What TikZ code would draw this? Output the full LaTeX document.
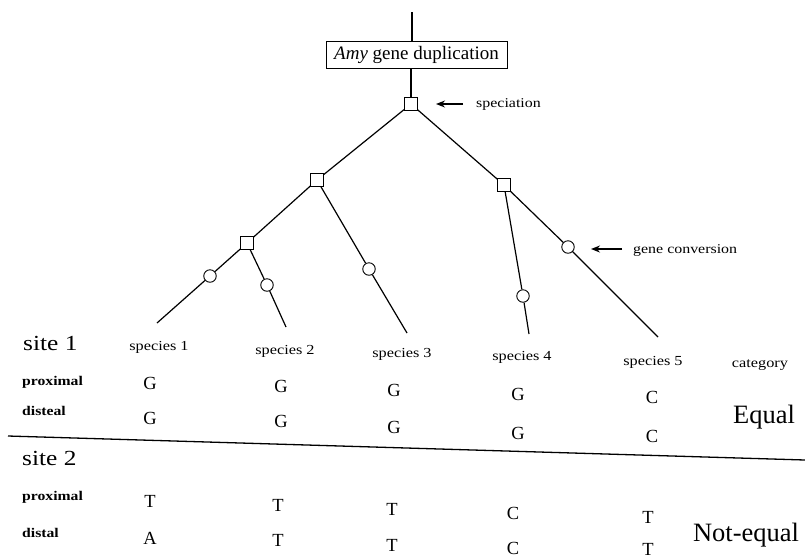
\documentclass[tikz,border=0pt]{standalone}
\usepackage{fontspec}
\setmainfont{Liberation Serif}
\newfontfamily\tf{Liberation Serif}
\newfontfamily\tfs{Liberation Serif}[FakeStretch=1.18]
\usetikzlibrary{arrows.meta}
\tikzset{
  lab/.style={inner sep=0, anchor=west, font=\tfs\bfseries\fontsize{13.3}{14}\selectfont},
  sp/.style={inner sep=0, font=\tfs\fontsize{13.8}{14}\selectfont},
  nt/.style={inner sep=0, font=\tf\fontsize{18.5}{19}\selectfont},
  site/.style={inner sep=0, anchor=west, font=\tfs\fontsize{21.5}{22}\selectfont},
  big/.style={inner sep=0, font=\tf\fontsize{26.5}{27}\selectfont},
  note/.style={inner sep=0, anchor=west, font=\tfs\fontsize{13.5}{14}\selectfont},
  sq/.style={draw, fill=white, minimum size=12.5pt, inner sep=0, line width=0.9pt},
  circ/.style={draw, fill=white, circle, minimum size=12.5pt, inner sep=0, line width=0.9pt},
  branch/.style={line width=1.2pt},
  pointer/.style={line width=1.3pt, -{Stealth[length=9pt,width=7pt]}}
}
\begin{document}
\begin{tikzpicture}[x=1pt,y=-1pt]
\useasboundingbox (0,0) rectangle (805,558);
% top
\coordinate (top) at (412,12);
\node[draw, line width=0.9pt, minimum width=181pt, minimum height=27pt, inner sep=0,
      font=\tf\fontsize{19}{19}\selectfont] (dup) at (416.5,54.5) {\textit{Amy} gene duplication};
\node[sq] (root) at (411,104) {};
\draw[branch] (top) -- (top |- dup.north);
\draw[branch] (root) -- (root |- dup.south);
% internal nodes
\node[sq] (a2) at (317,180) {};
\node[sq] (a4) at (504,185) {};
\node[sq] (a3) at (247,243) {};
\node[circ] (c1) at (210,276) {};
\node[circ] (c2) at (267,285) {};
\node[circ] (c3) at (369,269) {};
\node[circ] (c4) at (523,296) {};
\node[circ] (c5) at (568,247) {};
\coordinate (e1) at (157,323);
\coordinate (e2) at (286,327);
\coordinate (e3) at (407,333);
\coordinate (e4) at (529,334);
\coordinate (e5) at (658,337);
\draw[branch] (root) -- (a2);
\draw[branch] (root) -- (a4);
\draw[branch] (a2) -- (a3);
\draw[branch] (a3) -- (c1); \draw[branch] (c1) -- (e1);
\draw[branch] (a3) -- (c2); \draw[branch] (c2) -- (e2);
\draw[branch] (a2) -- (c3); \draw[branch] (c3) -- (e3);
\draw[branch] (a4) -- (c4); \draw[branch] (c4) -- (e4);
\draw[branch] (a4) -- (c5); \draw[branch] (c5) -- (e5);
% annotations
\coordinate (s1) at (463,104);
\coordinate (s2) at (436,104);
\draw[pointer] (s1) -- (s2);
\node[note] (spec) at (476,104) {speciation};
\coordinate (g1) at (622,249);
\coordinate (g2) at (591,249);
\draw[pointer] (g1) -- (g2);
\node[note] (gc) at (633,250) {gene conversion};
% table headers
\node[site] (site1) at (23,343) {site 1};
\node[sp] (sp1) at (159,347) {species 1};
\node[sp] (sp2) at (285,351) {species 2};
\node[sp] (sp3) at (402,354) {species 3};
\node[sp] (sp4) at (522,357) {species 4};
\node[sp] (sp5) at (653,362) {species 5};
\node[sp] (cat) at (760,365) {category};
% site 1
\node[lab] (p1) at (22,382) {proximal};
\node[lab] (d1) at (22,411) {disteal};
\node[nt] (n11) at (150,383) {G};
\node[nt] (n12) at (281,386) {G};
\node[nt] (n13) at (394,390) {G};
\node[nt] (n14) at (518,394) {G};
\node[nt] (n15) at (652,397) {C};
\node[nt] (m11) at (150,418) {G};
\node[nt] (m12) at (281,421) {G};
\node[nt] (m13) at (394,427) {G};
\node[nt] (m14) at (518,433) {G};
\node[nt] (m15) at (652,436) {C};
\node[big] (eq) at (764,417) {Equal};
% separator
\coordinate (l1) at (8,436);
\coordinate (l2) at (805,460);
\draw[line width=1.3pt] (l1) -- (l2);
% site 2
\node[site] (site2) at (22,458) {site 2};
\node[lab] (p2) at (22,497) {proximal};
\node[lab] (d2) at (22,533) {distal};
\node[nt] (n21) at (150,501) {T};
\node[nt] (n22) at (278,505) {T};
\node[nt] (n23) at (392,509) {T};
\node[nt] (n24) at (513,513) {C};
\node[nt] (n25) at (648,517) {T};
\node[nt] (m21) at (150,538) {A};
\node[nt] (m22) at (278,540) {T};
\node[nt] (m23) at (392,545) {T};
\node[nt] (m24) at (513,548) {C};
\node[nt] (m25) at (648,549) {T};
\node[big] (ne) at (746,535) {Not-equal};
\end{tikzpicture}
\end{document}
